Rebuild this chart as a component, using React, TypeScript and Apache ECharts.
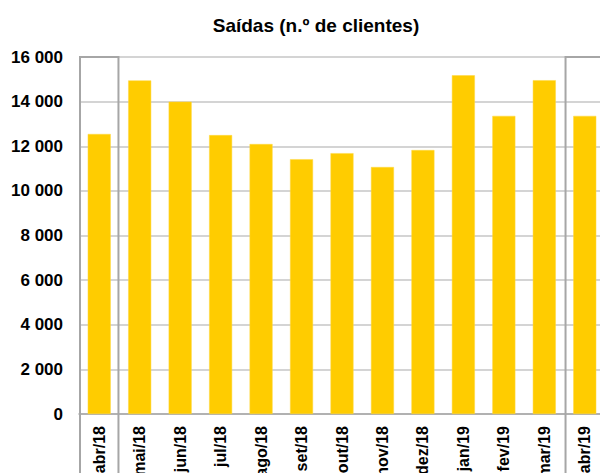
import React, { useEffect, useRef } from "react";
import * as echarts from "echarts";

const categories = ["abr/18", "mai/18", "jun/18", "jul/18", "ago/18", "set/18", "out/18", "nov/18", "dez/18", "jan/19", "fev/19", "mar/19", "abr/19"];
const saidas = [12550, 14950, 14000, 12500, 12100, 11420, 11690, 11070, 11830, 15180, 13360, 14960, 13360];
const highlighted = ["abr/18", "abr/19"];
const yTicks = { min: 0, max: 16000, interval: 2000 };

const FONT = "'Liberation Sans', Arial, sans-serif";

export default function App() {
  const ref = useRef<HTMLDivElement>(null);
  useEffect(() => {
    if (!ref.current) return;
    const chart = echarts.init(ref.current, undefined, { renderer: "svg" });
    chart.setOption({
      animation: false,
      title: {
        text: "Saídas (n.º de clientes)",
        left: 311,
        top: 11,
        textAlign: "center",
        textStyle: { fontFamily: FONT, fontWeight: "bold", fontSize: 19, color: "#000" },
      },
      grid: { left: 79, right: -5, top: 57, bottom: 59, outerBoundsMode: "none", containLabel: false },
      xAxis: {
        type: "category",
        data: categories,
        axisLine: { lineStyle: { color: "#a6a6a6", width: 1.5 } },
        axisTick: { show: false },
        axisLabel: { rotate: 90, margin: 12, fontFamily: FONT, fontWeight: "bold", fontSize: 16, color: "#000" },
      },
      yAxis: {
        type: "value",
        min: yTicks.min,
        max: yTicks.max,
        interval: yTicks.interval,
        axisLine: { show: false },
        axisTick: { show: false },
        splitLine: { lineStyle: { color: "#d4d4d4", width: 2 } },
        axisLabel: {
          margin: 16,
          fontFamily: FONT,
          fontWeight: "bold",
          fontSize: 17,
          color: "#000",
          formatter: (v: number) => {
            const s = String(v);
            return s.length > 3 ? s.slice(0, -3) + " " + s.slice(-3) : s;
          },
        },
      },
      series: [
        {
          type: "bar",
          data: saidas,
          barWidth: 23,
          itemStyle: { color: "#FFCC00", borderColor: "#FFD940", borderWidth: 0.5 },
        },
      ],
    });
    const topY = chart.convertToPixel({ yAxisIndex: 0 }, yTicks.max) as number;
    const p0 = chart.convertToPixel({ xAxisIndex: 0 }, 0) as number;
    const p1 = chart.convertToPixel({ xAxisIndex: 0 }, 1) as number;
    const band = Math.abs(p1 - p0);
    const half = band / 2 - 1;
    chart.setOption({
      graphic: highlighted.map((c) => {
        const cx = chart.convertToPixel({ xAxisIndex: 0 }, c) as number;
        return {
          type: "rect",
          shape: { x: cx - half, y: topY, width: half * 2, height: 473 - topY + 20 },
          style: { fill: "none", stroke: "#a6a6a6", lineWidth: 2 },
          z: 10,
        };
      }),
    });
    return () => chart.dispose();
  }, []);
  return <div ref={ref} style={{ position: "absolute", left: 0, top: 0, width: 600, height: 473 }} />;
}
